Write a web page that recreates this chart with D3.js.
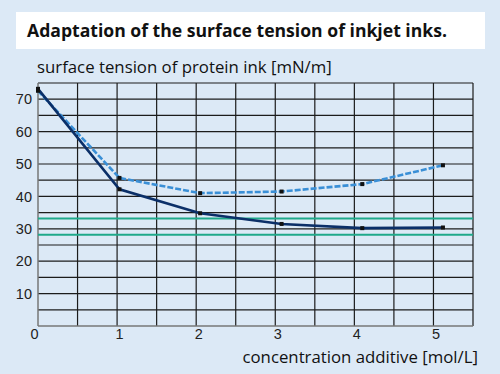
<!DOCTYPE html>
<html>
<head>
  <meta charset="utf-8">
  <script src="https://d3js.org/d3.v7.min.js"></script>
  <style>
    body { margin: 0; background: #dce9f6; }
    svg { display: block; font-family: "Open Sans", "DejaVu Sans", sans-serif; }
    .tick text { font-size: 14.5px; fill: #222; }
  </style>
</head>
<body>
<script>
  // data
  var concDark = [0, 1.03, 2.05, 3.08, 4.1, 5.12];
  var tensionDark = [73.2, 42.2, 34.8, 31.5, 30.2, 30.4];
  var concLight = [0, 1.03, 2.05, 3.08, 4.1, 5.12];
  var tensionLight = [72.6, 45.7, 41.0, 41.5, 43.8, 49.6];
  var targetBand = [28.2, 33.2];
  var xTicks = [0, 1, 2, 3, 4, 5];
  var yTicks = [10, 20, 30, 40, 50, 60, 70];

  var outerWidth = 500, outerHeight = 374;
  var margin = { top: 83, left: 38, right: 27, bottom: 48 };
  var width = outerWidth - margin.left - margin.right,
    height = outerHeight - margin.top - margin.bottom;

  var xScale = d3.scaleLinear().domain([0, 5.5]).range([0, width]);
  var yScale = d3.scaleLinear().domain([0, 75]).range([height, 0]);

  var svg = d3.select("body").append("svg")
    .attr("width", outerWidth)
    .attr("height", outerHeight);

  svg.append("rect").attr("width", outerWidth).attr("height", outerHeight).attr("fill", "#dce9f6");

  // title box
  svg.append("rect").attr("x", 16).attr("y", 12).attr("width", 469).attr("height", 37).attr("fill", "#fff");
  svg.append("text").attr("x", 27).attr("y", 37)
    .attr("font-size", 17.6).attr("font-weight", "bold").attr("fill", "#111")
    .text("Adaptation of the surface tension of inkjet inks.");

  svg.append("text").attr("x", 37).attr("y", 73)
    .attr("font-size", 16.8).attr("fill", "#111")
    .text("surface tension of protein ink [mN/m]");

  svg.append("text").attr("x", 478).attr("y", 363)
    .attr("font-size", 16.8).attr("fill", "#111").attr("text-anchor", "end")
    .text("concentration additive [mol/L]");

  var g = svg.append("g").attr("transform", "translate(" + margin.left + "," + margin.top + ")");

  // grid: every 0.5 on x, every 5 on y
  g.selectAll(".vgrid").data(d3.range(0.5, 5.51, 0.5)).enter().append("line")
    .attr("x1", function(d) { return xScale(d); }).attr("x2", function(d) { return xScale(d); })
    .attr("y1", 0).attr("y2", height)
    .attr("stroke", "#1c1c1c").attr("stroke-width", 1.2);
  g.selectAll(".hgrid").data(d3.range(5, 75.1, 5)).enter().append("line")
    .attr("x1", 0).attr("x2", width)
    .attr("y1", function(d) { return yScale(d); }).attr("y2", function(d) { return yScale(d); })
    .attr("stroke", "#1c1c1c").attr("stroke-width", 1.2);

  // axis lines
  g.append("line").attr("x1", 0).attr("x2", 0).attr("y1", 0).attr("y2", height)
    .attr("stroke", "#777").attr("stroke-width", 1.5);
  g.append("line").attr("x1", 0).attr("x2", width).attr("y1", height).attr("y2", height)
    .attr("stroke", "#777").attr("stroke-width", 1.5);

  var yAxis = g.append("g").call(d3.axisLeft(yScale).tickValues(yTicks).tickFormat(d3.format("d")).tickSize(0).tickPadding(6));
  yAxis.select(".domain").remove();

  var xAxis = g.append("g").attr("transform", "translate(0," + height + ")")
    .call(d3.axisBottom(xScale).tickValues(xTicks).tickFormat(d3.format("d")).tickSize(0).tickPadding(3));
  xAxis.select(".domain").remove();
  xAxis.selectAll(".tick text").filter(function(d) { return d === 0; }).attr("dx", -4);
  xAxis.selectAll(".tick text").filter(function(d) { return d !== 0; }).attr("dx", 2);

  // green target band lines
  g.selectAll(".band").data(targetBand).enter().append("line")
    .attr("x1", 0).attr("x2", width)
    .attr("y1", function(d) { return yScale(d); }).attr("y2", function(d) { return yScale(d); })
    .attr("stroke", "#1fa98a").attr("stroke-width", 2);

  var line = d3.line()
    .x(function(d) { return xScale(d[0]); })
    .y(function(d) { return yScale(d[1]); });

  var lightPts = d3.zip(concLight, tensionLight);
  var darkPts = d3.zip(concDark, tensionDark);

  g.append("path").datum(lightPts).attr("d", line)
    .attr("fill", "none").attr("stroke", "#3a8fd6").attr("stroke-width", 2.6)
    .attr("stroke-dasharray", "6,2");
  g.append("path").datum(darkPts).attr("d", line)
    .attr("fill", "none").attr("stroke", "#0b2f68").attr("stroke-width", 2.6);

  g.selectAll(".mk").data(lightPts.concat(darkPts)).enter().append("rect")
    .attr("x", function(d) { return xScale(d[0]) - 2; })
    .attr("y", function(d) { return yScale(d[1]) - 2; })
    .attr("width", 4).attr("height", 4).attr("fill", "#111");
</script>
</body>
</html>
